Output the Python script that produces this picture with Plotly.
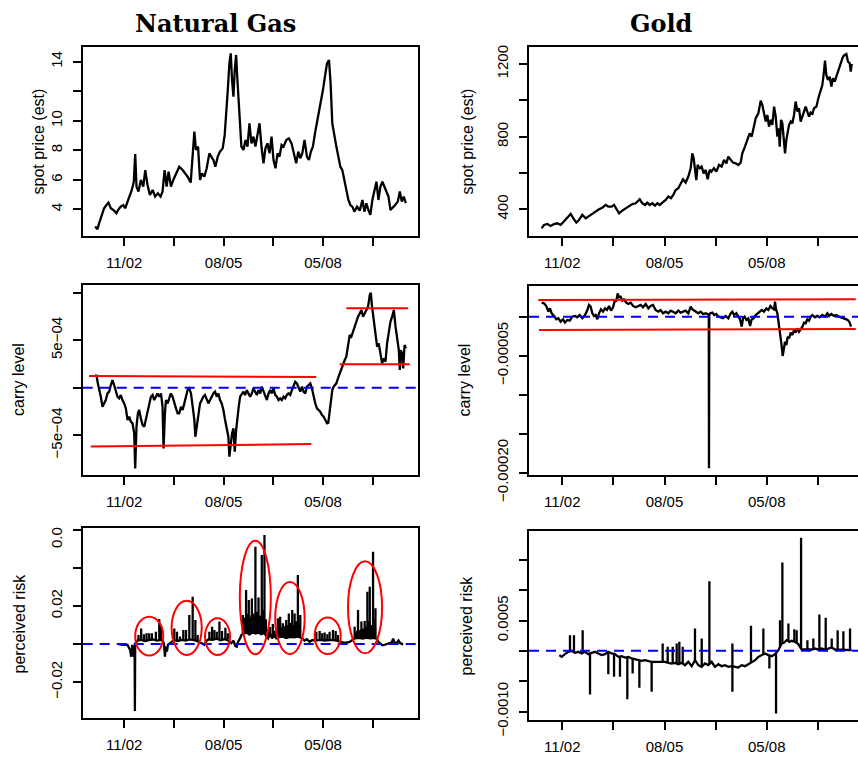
import plotly.graph_objects as go

# ---------------- time axis (trading-day index) ----------------
tick_days = [1000, 1500, 2000, 2500, 3000, 3500]
tick_labels = ["11/02", "", "08/05", "", "05/08", ""]

# ---------------- Natural gas: spot price ----------------
ng_t = [708,731,748,775,798,822,842,866,899,923,943,966,990,1010,1034,1057,1077,1097,1111,1124,
        1144,1168,1192,1212,1235,1259,1286,1312,1339,1366,1386,1407,1427,1447,1470,1494,1521,1554,1588,1615,
        1638,1669,1689,1706,1722,1743,1763,1783,1806,1830,1857,1877,1897,1917,1941,1964,1991,2011,2025,2042,
        2058,2072,2085,2099,2112,2126,2139,2152,2166,2179,2200,2220,2240,2260,2280,2300,2320,2341,2361,2381,
        2401,2421,2441,2462,2482,2502,2522,2542,2562,2583,2603,2630,2656,2683,2710,2730,2751,2771,2791,2814,
        2838,2858,2878,2898,2919,2939,2959,2979,2999,3019,3040,3060,3076,3093,3113,3134,3154,3174,3194,3214,
        3234,3255,3275,3295,3315,3342,3369,3396,3416,3436,3456,3476,3496,3517,3537,3557,3577,3597,3617,3638,
        3658,3678,3698,3725,3752,3772,3792,3812,3833]
ng_price = [2.83,2.65,3.05,3.62,4.07,4.29,4.45,4.07,3.91,3.73,4.0,4.18,4.29,4.07,4.52,4.86,5.31,5.87,7.75,5.54,
            5.2,5.99,5.54,6.66,5.65,4.97,5.31,4.86,5.08,4.86,5.2,6.66,5.54,6.55,5.54,5.99,6.44,6.89,6.66,6.44,
            6.21,5.81,7.57,9.26,8.02,8.25,5.99,6.44,6.21,6.78,7.79,7.57,7.34,6.89,7.57,7.91,8.13,9.04,10.28,12.08,
            13.89,14.57,12.76,11.63,13.44,14.46,12.76,11.41,9.6,8.25,8.02,8.7,8.25,9.83,8.47,8.92,8.25,9.04,9.83,8.25,
            7.12,8.13,8.47,7.79,8.92,7.34,6.78,7.79,7.57,8.36,8.25,8.7,8.81,8.47,7.57,7.12,7.91,7.46,7.79,8.7,
            7.57,7.34,7.91,8.25,9.15,9.83,10.73,11.41,12.08,12.99,13.89,14.12,12.54,9.83,8.92,8.25,7.57,6.89,6.66,5.99,
            5.54,4.63,4.29,4.18,3.84,4.18,3.91,4.63,3.84,4.41,3.95,3.62,4.63,5.31,5.87,4.63,5.54,5.87,5.54,5.2,
            4.86,3.95,4.07,4.29,4.52,5.2,4.52,4.86,4.41]

# ---------------- Natural gas: carry level (units of 1e-4) ----------------
ng_carry_t = [708,721,735,748,765,782,798,815,832,849,866,882,899,916,933,950,966,983,1000,1017,
              1034,1050,1067,1084,1101,1111,1124,1138,1151,1168,1185,1202,1218,1235,1252,1269,1286,1302,1319,1336,
              1353,1370,1386,1396,1410,1420,1437,1454,1470,1487,1504,1521,1538,1554,1571,1588,1605,1622,1638,1655,
              1672,1689,1706,1716,1729,1746,1763,1780,1796,1813,1830,1847,1864,1880,1897,1914,1931,1948,1964,1981,
              1998,2015,2032,2048,2058,2072,2085,2099,2112,2126,2139,2152,2166,2183,2200,2216,2233,2250,2267,2284,
              2300,2317,2334,2351,2368,2384,2401,2418,2435,2452,2468,2485,2502,2519,2536,2552,2569,2586,2603,2620,
              2636,2653,2670,2687,2704,2720,2737,2754,2771,2788,2804,2821,2838,2855,2872,2888,2905,2922,2939,2956,
              2972,2989,3006,3023,3040,3053,3066,3080,3093,3107,3120,3134,3150,3167,3184,3201,3218,3234,3251,3268,
              3285,3302,3318,3335,3352,3369,3386,3402,3419,3436,3453,3470,3480,3493,3510,3527,3544,3560,3577,3594,
              3611,3628,3644,3661,3678,3695,3712,3729,3745,3762,3772,3782,3796,3806,3820,3833]
ng_carry_e4 = [1.16,1.33,0.46,-0.07,-0.95,-2.0,-1.65,-1.3,-0.6,-0.42,0.28,0.81,0.28,-0.42,-0.95,-1.12,-0.77,-1.3,-1.65,-2.18,
               -3.4,-3.05,-3.58,-3.75,-4.81,-8.49,-4.11,-2.7,-2.35,-3.23,-3.93,-4.11,-3.4,-2.35,-1.65,-0.95,-0.77,-1.3,-0.95,-0.6,
               -0.95,-0.6,-2.0,-6.39,-2.7,-1.3,-1.65,-0.95,-0.6,-0.95,-1.65,-2.18,-2.7,-2.7,-2.0,-2.35,-1.65,-0.95,-0.25,-0.07,
               -0.6,-2.0,-3.4,-5.16,-4.11,-2.7,-1.65,-1.3,-0.95,-0.77,-1.3,-1.65,-1.3,-0.95,-0.6,-0.42,-0.95,-0.6,-1.3,-1.65,
               -2.35,-3.4,-4.46,-5.16,-7.26,-5.86,-4.81,-4.28,-6.74,-4.46,-3.05,-2.0,-0.95,-0.6,-0.42,-0.77,-0.25,-0.6,-0.95,-0.6,
               -0.07,-0.42,-0.77,-0.25,-0.6,0.11,-0.42,-0.95,-1.3,-0.6,-0.25,-0.6,-0.07,-0.77,-0.95,-1.3,-1.12,-1.3,-0.95,-1.12,
               -0.77,-0.6,-0.77,-0.25,0.28,0.63,0.46,-0.07,-0.42,0.11,-0.42,-0.6,0.11,0.28,0.46,-0.07,-0.95,-1.65,-2.18,-2.35,
               -2.53,-2.88,-3.05,-3.4,-3.75,-3.68,-2.35,-0.95,-0.25,0.11,0.28,0.46,0.98,1.51,1.86,2.39,2.91,3.26,4.67,5.54,
               5.37,5.89,6.42,7.12,7.47,7.82,8.18,7.47,7.82,8.18,8.53,9.75,10.0,8.53,7.12,5.37,4.32,4.67,3.61,2.56,
               3.09,2.74,4.67,5.89,6.95,7.47,8.18,6.42,5.37,3.96,1.86,3.96,3.61,2.04,4.49,4.14]
# regime bands (start day, end day, level at start, level at end), units 1e-4
ng_band_t0 = [647, 664, 3234, 3167]
ng_band_t1 = [2932, 2882, 3856, 3873]
ng_band_v0 = [1.23, -6.20, 8.35, 2.46]
ng_band_v1 = [1.12, -5.93, 8.35, 2.46]

# ---------------- Natural gas: perceived risk (units of 0.01) ----------------
ng_risk_t = [943,983,1034,1060,1071,1081,1091,1097,1105,1108,1111,1114,1124,1134,1170,1210,1250,1290,1330,1370,
             1386,1400,1410,1420,1430,1440,1460,1480,1500,1540,1580,1620,1660,1700,1740,1756,1783,1806,1830,1850,
             1890,1930,1970,2010,2040,2058,2078,2099,2119,2132,2146,2166,2179,2200,2230,2260,2290,2320,2350,2380,
             2410,2428,2448,2468,2488,2509,2529,2550,2590,2630,2670,2710,2750,2775,2791,2814,2838,2865,2892,2915,
             2935,2975,3015,3055,3095,3135,3167,3201,3234,3268,3295,3320,3360,3400,3440,3480,3520,3545,3554,3570,
             3597,3621,3644,3671,3692,3705,3718,3738,3759,3772,3792,3806]
ng_risk_e2 = [0,-0.04,-0.05,-0.32,-0.67,-0.05,-0.67,-0.14,-0.1,-3.53,0.02,0.04,0.12,0.18,0.22,0.16,0.2,0.24,0.18,0.22,
              0.18,0.04,-0.67,-0.14,-0.4,-0.05,0.04,0.12,0.2,0.16,0.22,0.18,0.24,0.2,0.15,0.07,0.04,-0.04,0.18,0.25,
              0.22,0.28,0.2,0.26,0.2,0.12,0.04,0.18,-0.11,-0.14,0.12,0.3,0.47,0.55,0.6,0.5,0.62,0.55,0.6,0.52,
              0.58,0.42,0.3,0.56,0.3,0.47,0.3,0.35,0.4,0.32,0.38,0.35,0.4,0.33,0.3,0.18,0.25,0.12,0.21,0.18,
              0.2,0.22,0.18,0.2,0.22,0.18,0.12,0.09,0.07,0.11,0.21,0.3,0.32,0.28,0.33,0.3,0.32,0.25,0.12,0.04,
              -0.07,-0.04,0,0.05,0.09,0.28,0.09,0.04,0.18,0.07,0,0]
ng_spike_t = [1144,1171,1198,1225,1252,1279,1319,1353,1370,
              1504,1531,1561,1595,1622,1655,1689,1716,1739,
              1857,1884,1907,1931,1958,1984,2018,2042,
              2193,2203,2213,2226,2240,2253,2267,2284,2300,2320,2334,2351,2368,2384,2398,2411,2425,
              2445,2468,2495,2515,
              2546,2556,2569,2583,2596,2613,2630,2643,2656,2673,2690,2700,2714,2730,2747,2757,2771,
              2932,2966,2992,3016,3043,3066,3100,3127,3150,
              3318,3335,3352,3369,3386,3402,3419,3433,3446,3460,3470,3486,3503,3517,3527]
ng_spike_lo = [0.2]*9 + [0.2]*9 + [0.25]*8 + [0.55]*17 + [0.35]*4 + [0.35]*17 + [0.2]*9 + [0.3]*15
ng_spike_hi = [0.47,0.82,0.51,0.56,0.56,0.56,0.65,1.32,1.0,
               0.82,0.65,0.39,0.74,0.74,1.53,2.49,1.26,0.47,
               0.65,0.91,0.74,0.65,1.18,0.68,0.86,0.56,
               1.53,1.2,1.1,2.84,1.5,2.32,1.4,2.4,1.6,5.12,1.7,2.45,1.5,4.68,1.8,5.74,1.3,
               0.7,0.9,1.05,0.7,
               1.35,0.9,1.44,0.8,1.09,0.9,1.26,1.0,1.61,1.1,1.79,1.0,1.61,1.2,3.63,1.0,1.53,
               0.65,0.68,0.56,0.61,0.51,0.65,0.74,0.68,0.47,
               0.91,0.6,1.79,0.7,1.18,0.8,1.21,0.9,2.75,1.2,3.02,1.0,4.86,1.3,1.88]
# smaller in-between spikes that fill the busy episodes
ng_fill_t = [2198,2208,2218,2233,2246,2260,2274,2290,2310,2327,2342,2360,2376,2391,2405,2418,
             2551,2562,2576,2590,2604,2621,2637,2650,2664,2681,2695,2707,2722,2738,2764,
             3326,3344,3360,3377,3394,3410,3426,3440,3453,3465,3478,3494,3510,3522]
ng_fill_lo = [0.55]*16 + [0.35]*15 + [0.3]*14
ng_fill_hi = [1.0,1.4,1.3,1.6,1.2,1.5,1.3,1.4,1.5,1.2,1.6,1.3,1.4,1.2,1.5,1.1,
              0.8,0.9,0.85,0.9,0.8,0.95,0.9,0.85,1.0,0.9,1.0,0.9,1.0,1.1,0.9,
              0.6,0.7,0.65,0.75,0.7,0.8,0.85,0.9,1.0,1.1,0.9,1.0,1.1,0.9]
# highlighted episodes (ellipses): day range and risk range (units 0.01)
ep_t0 = [1111, 1477, 1813, 2163, 2519, 2915, 3251]
ep_t1 = [1393, 1780, 2065, 2475, 2815, 3178, 3594]
ep_v0 = [-0.61, -0.58, -0.58, -0.54, -0.54, -0.53, -0.49]
ep_v1 = [1.44, 2.28, 1.35, 5.44, 3.26, 1.39, 4.35]

# ---------------- Gold: spot price ----------------
au_t = [798,821,853,886,918,951,984,1016,1049,1082,1108,1137,1163,1196,1229,1261,1294,1326,1359,1391,
        1424,1450,1483,1506,1528,1555,1587,1620,1652,1685,1718,1757,1783,1809,1832,1855,1881,1907,1930,1953,
        1979,2011,2037,2063,2086,2109,2135,2158,2181,2207,2233,2256,2272,2285,2298,2311,2324,2344,2363,2383,
        2403,2422,2442,2458,2484,2507,2533,2559,2582,2605,2624,2647,2670,2696,2722,2745,2761,2787,2810,2833,
        2853,2866,2892,2918,2941,2957,2973,2990,3006,3022,3039,3055,3072,3088,3104,3117,3127,3140,3153,3166,
        3179,3192,3205,3218,3235,3251,3267,3283,3300,3316,3332,3349,3365,3381,3397,3414,3430,3447,3463,3486,
        3505,3528,3544,3560,3570,3583,3599,3616,3632,3648,3665,3681,3697,3714,3730,3746,3763,3779,3795,3812,
        3822,3832]
au_price = [295,314,319,308,319,323,314,332,350,374,350,327,341,369,350,363,378,387,400,409,
            424,415,415,424,400,378,393,405,415,429,433,455,433,424,437,424,433,420,433,424,
            437,451,470,461,479,506,516,543,565,547,580,626,708,681,626,561,644,626,635,598,
            617,565,617,607,626,607,644,635,672,653,690,672,657,653,644,657,708,745,782,818,
            800,837,901,928,998,974,938,883,919,855,892,864,965,910,800,846,745,892,873,763,
            708,782,837,864,883,873,919,993,938,956,883,910,928,965,938,910,932,925,956,965,
            1011,1048,1084,1158,1218,1140,1112,1130,1075,1121,1103,1130,1158,1185,1213,1240,1250,1255,1213,1204,
            1158,1200]

# ---------------- Gold: carry level (units of 1e-5) ----------------
au_carry_t = [798,821,843,863,879,896,918,941,961,984,1007,1026,1049,1072,1098,1124,1147,1170,1196,1222,
              1245,1261,1277,1294,1310,1326,1343,1359,1378,1398,1418,1437,1457,1476,1496,1515,1528,1541,1555,1571,
              1587,1603,1626,1646,1669,1692,1718,1744,1767,1789,1816,1842,1864,1887,1913,1939,1962,1985,2011,2037,
              2060,2083,2109,2135,2158,2181,2207,2233,2256,2272,2288,2305,2331,2354,2377,2403,2429,2433,2435,2438,
              2448,2468,2487,2507,2527,2550,2572,2598,2624,2647,2663,2680,2703,2722,2739,2755,2768,2784,2801,2820,
              2837,2853,2872,2892,2912,2931,2951,2973,2996,3016,3036,3055,3072,3081,3091,3104,3114,3127,3143,3156,
              3169,3179,3192,3205,3218,3235,3251,3267,3283,3300,3316,3332,3349,3365,3381,3397,3414,3430,3447,3470,
              3495,3518,3544,3570,3593,3609,3632,3658,3681,3707,3733,3756,3779,3799,3812,3825]
au_carry_e5 = [1.79,1.71,1.37,0.64,1.07,0.43,0.09,-0.34,-0.21,-0.64,-0.34,-0.77,-0.43,-0.51,0,0.09,-0.09,0.21,-0.21,0.21,
               0.85,1.5,1.28,0.43,0.09,0.21,-0.34,0.43,0.94,0.64,1.07,0.85,1.37,0.77,1.2,2.14,1.92,2.99,2.48,2.56,
               2.05,2.22,1.79,1.62,1.79,1.37,1.2,1.37,1.5,1.2,1.62,1.07,1.37,1.5,0.85,0.64,0.85,0.43,0.64,0.43,
               0.77,0.64,0.43,0.77,0.51,0.64,0.77,0.43,1.28,0.94,0.77,0.64,0.43,0.64,0.34,0.43,0.21,0.25,-19.44,0.3,
               0.43,0.51,0.21,0.34,0,-0.09,-0.21,0.09,-0.21,0.43,0.64,0.21,0.43,0,-0.34,-1.28,-0.21,0,-0.43,-0.21,
               -1.2,-0.34,-0.21,0.21,0.43,0.64,0.85,0.64,1.07,0.85,1.37,1.07,0.94,1.92,0.94,0.43,-0.43,-1.71,-3.42,-5.04,
               -3.85,-3.21,-3.63,-2.56,-2.78,-2.05,-2.35,-1.71,-2.05,-1.5,-1.92,-1.62,-1.28,-0.77,-0.85,-0.34,-0.51,0,0.21,-0.09,
               0.09,-0.09,0.21,0,0.43,0.09,0.34,0.09,0.21,0,-0.09,-0.21,-0.34,-0.51,-0.77,-1.28]
au_band_t0 = [765, 772]
au_band_t1 = [3871, 3871]
au_band_v0 = [2.14, -1.71]
au_band_v1 = [2.22, -1.58]

# ---------------- Gold: perceived risk (units of 1e-4) ----------------
au_risk_t = [971,993,1026,1059,1091,1124,1157,1189,1222,1254,1287,1320,1352,1385,1418,1450,1483,1515,1548,1581,
             1613,1646,1678,1711,1744,1776,1809,1842,1874,1907,1939,1972,2005,2037,2070,2103,2135,2168,2200,2233,
             2266,2298,2331,2363,2396,2429,2461,2494,2527,2559,2592,2624,2657,2690,2722,2755,2788,2820,2853,2886,
             2918,2951,2983,3016,3049,3081,3114,3130,3146,3169,3195,3221,3244,3277,3309,3342,3375,3407,3440,3472,
             3505,3538,3570,3603,3636,3668,3701,3733,3766,3799,3831]
au_risk_e4 = [-0.71,-0.99,-0.55,-0.16,0,-0.33,-0.16,-0.44,-0.16,-0.55,-0.33,-0.16,-0.44,-0.71,-0.55,-0.16,-0.44,-0.55,-0.99,-0.88,
              -1.1,-0.99,-1.26,-1.43,-1.54,-1.65,-1.54,-1.7,-1.81,-1.81,-1.81,-1.81,-1.81,-1.98,-2.09,-1.98,-2.2,-1.98,-2.36,-1.81,
              -2.53,-1.54,-2.36,-2.64,-2.09,-2.36,-1.81,-2.64,-2.2,-2.53,-2.36,-2.64,-2.53,-2.64,-2.75,-2.36,-2.53,-2.2,-1.81,-1.54,
              -0.99,-0.71,-0.44,-0.71,-0.88,-0.55,0.11,0.66,1.21,1.32,1.76,1.48,1.65,1.48,1.1,0.22,0.22,0.11,0.22,0.38,
              0.22,0.38,0.22,0.38,0.55,0.22,0.22,0.11,0.22,0.11,0.11]
au_spike_t = [1075,1114,1199,1271,1450,1506,1564,1636,1688,1754,1874,1982,2031,2080,2119,2145,2178,2298,2364,2439,
              2664,2664,2846,2967,3026,3091,3130,3153,3212,3270,3293,3336,3398,3456,3515,3577,3636,3694,3750,3815]
au_spike_lo = [-0.1,-0.3,-0.3,-0.4,-0.2,-0.5,-0.95,-1.0,-1.3,-1.55,-1.81,-1.8,-1.95,-2.05,-2.1,-2.1,-2.0,-1.6,-2.6,-2.3,
               -2.5,-2.5,-1.9,-0.6,-0.75,-0.5,0.66,1.2,1.6,1.5,1.3,0.4,0.15,0.3,0.3,0.25,0.5,0.22,0.15,0.11]
au_spike_hi = [2.58,2.58,3.41,-7.2,-3.85,-4.29,-4.29,-7.97,-3.74,-6.1,-6.76,1.21,0.66,0.66,1.21,1.48,0.66,3.68,2.03,11.48,
               1.21,-6.76,4.12,3.68,-2.91,-10.33,5.05,14.56,4.51,3.57,3.41,18.63,1.76,2.03,5.99,5.44,2.03,3.41,3.24,3.68]

# =====================================================================
W, H = 858, 760
def px(x): return x / W
def py(y): return 1 - y / H

BLACK = dict(color="black", width=2.3)
RED = dict(color="#ff0000", width=2)
FONT = "Liberation Sans, Arial, sans-serif"

fig = go.Figure()

def add_line(x, y, n, line):
    fig.add_trace(go.Scatter(x=x, y=y, mode="lines", line=line, xaxis=f"x{n}", yaxis=f"y{n}",
                             showlegend=False, hoverinfo="skip"))

def add_spikes(ts, lo, hi, scale, n):
    xs, ys = [], []
    for t, a, b in zip(ts, lo, hi):
        xs += [t, t, None]
        ys += [a * scale, b * scale, None]
    add_line(xs, ys, n, BLACK)

def add_bands(t0, t1, v0, v1, scale, n):
    for a, b, c, d in zip(t0, t1, v0, v1):
        add_line([a, b], [c * scale, d * scale], n, RED)

add_line(ng_t, ng_price, 1, BLACK)
add_line(au_t, au_price, 2, BLACK)
add_line(ng_carry_t, [v * 1e-4 for v in ng_carry_e4], 3, BLACK)
add_bands(ng_band_t0, ng_band_t1, ng_band_v0, ng_band_v1, 1e-4, 3)
add_line(au_carry_t, [v * 1e-5 for v in au_carry_e5], 4, BLACK)
add_bands(au_band_t0, au_band_t1, au_band_v0, au_band_v1, 1e-5, 4)
add_line(ng_risk_t, [v * 1e-2 for v in ng_risk_e2], 5, BLACK)
add_spikes(ng_spike_t, ng_spike_lo, ng_spike_hi, 1e-2, 5)
add_spikes(ng_fill_t, ng_fill_lo, ng_fill_hi, 1e-2, 5)
add_line(au_risk_t, [v * 1e-4 for v in au_risk_e4], 6, BLACK)
add_spikes(au_spike_t, au_spike_lo, au_spike_hi, 1e-4, 6)

# ---------------- axes ----------------
xdom_l = [82.7 / W, 418.3 / W]
xdom_r = [529 / W, 1.0]
ydoms = {1: (47, 236), 2: (46.7, 236), 3: (285, 475), 4: (286, 475), 5: (528.3, 718.3), 6: (530.7, 720)}
xr_l = [583, 3958]
xr_r = [674, 3893]

y_specs = {
    1: dict(range=[2.19, 15.0], tickvals=[4, 6, 8, 10, 12, 14], ticktext=["4", "6", "8", "10", "", "14"]),
    2: dict(range=[253, 1295], tickvals=[400, 600, 800, 1000, 1200], ticktext=["400", "", "800", "", "1200"]),
    3: dict(range=[-9.19e-4, 10.81e-4], tickvals=[-5e-4, 0, 5e-4, 1e-3], ticktext=["\u22125e\u221204", "", "5e\u221204", ""]),
    4: dict(range=[-20.3e-5, 3.93e-5], tickvals=[-2e-4, -1.5e-4, -1e-4, -5e-5, 0],
            ticktext=["\u22120.00020", "", "", "\u22120.00005", ""]),
    5: dict(range=[-0.0391, 0.0609], tickvals=[-0.02, 0, 0.02, 0.04, 0.06], ticktext=["\u22120.02", "", "0.02", "", ""]),
    6: dict(range=[-11.4e-4, 19.8e-4], tickvals=[-1e-3, -5e-4, 0, 5e-4, 1e-3, 1.5e-3],
            ticktext=["\u22120.0010", "", "", "0.0005", "", ""]),
}

layout = dict(width=W, height=H, margin=dict(l=0, r=0, t=0, b=0, autoexpand=False),
              paper_bgcolor="white", plot_bgcolor="white", showlegend=False,
              font=dict(family=FONT, color="black"))

for n in range(1, 7):
    left = (n % 2 == 1)
    y0, y1 = ydoms[n]
    layout[f"xaxis{n}"] = dict(domain=xdom_l if left else xdom_r, range=xr_l if left else xr_r,
                               anchor=f"y{n}", showline=True, linecolor="black", linewidth=2, mirror=True,
                               ticks="outside", ticklen=8, tickwidth=1.5, tickcolor="black",
                               tickmode="array", tickvals=tick_days, ticktext=tick_labels,
                               showgrid=False, zeroline=False, ticklabelstandoff=4, automargin=False,
                               tickfont=dict(family=FONT, size=15, color="black"))
    spec = y_specs[n]
    layout[f"yaxis{n}"] = dict(domain=[py(y1), py(y0)], range=spec["range"], anchor=f"x{n}",
                               showline=True, linecolor="black", linewidth=2, mirror=left,
                               ticks="outside", ticklen=8, tickwidth=1.5, tickcolor="black",
                               tickmode="array", tickvals=spec["tickvals"], ticktext=spec["ticktext"],
                               tickangle=-90, showgrid=False, zeroline=False, ticklabelstandoff=5,
                               automargin=False,
                               tickfont=dict(family=FONT, size=15, color="black"))
fig.update_layout(**layout)

for n in [3, 4, 5, 6]:
    fig.add_shape(type="line", xref=f"x{n} domain", x0=0, x1=1, yref=f"y{n}", y0=0, y1=0,
                  line=dict(color="#0000ff", width=2, dash="10px,7px"), layer="above")

for a, b, c, d in zip(ep_t0, ep_t1, ep_v0, ep_v1):
    fig.add_shape(type="circle", xref="x5", yref="y5", x0=a, x1=b, y0=c * 1e-2, y1=d * 1e-2,
                  line=dict(color="#ff0000", width=2), layer="above")

ann = []
ann.append(dict(text="<b>Natural Gas</b>", x=px(215), y=py(24)))
ann.append(dict(text="<b>Gold</b>", x=px(661), y=py(24)))
for a in ann:
    a["font"] = dict(family="DejaVu Serif", size=24, color="black")
ylabels = [("spot price (est)", 38, 141.5), ("carry level", 18, 380), ("perceived risk", 19, 623.5),
           ("spot price (est)", 467, 141.5), ("carry level", 464, 380.5), ("perceived risk", 466, 625.5)]
for txt, x, y in ylabels:
    ann.append(dict(text=txt, x=px(x), y=py(y), textangle=-90,
                    font=dict(family=FONT, size=16, color="black")))
ann.append(dict(text="0.0", x=px(56), y=py(538), textangle=-90,
                font=dict(family=FONT, size=15, color="black")))
for a in ann:
    a.update(xref="paper", yref="paper", showarrow=False, xanchor="center", yanchor="middle")
fig.update_layout(annotations=ann)

fig.write_html("out.html")
